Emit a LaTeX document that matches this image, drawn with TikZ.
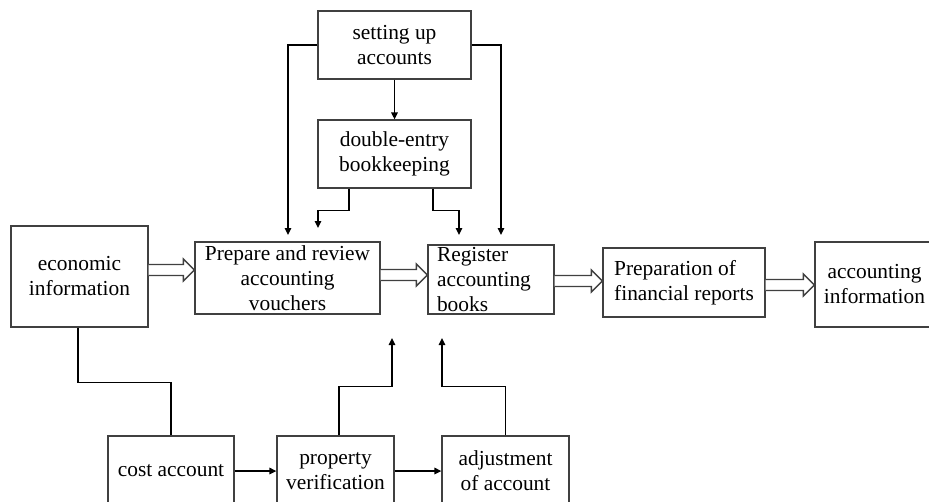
\documentclass[tikz,border=0pt]{standalone}
\usepackage{fontspec}
\setmainfont{Liberation Serif}
\usetikzlibrary{arrows.meta,calc}
\begin{document}
\begin{tikzpicture}[x=1pt,y=-1pt,
  box/.style={draw=black!75, line width=1.3pt, rectangle, inner sep=0pt,
    align=center, font=\fontsize{21.4}{25}\selectfont, text=black},
  link/.style={draw=black, line width=1.4pt, -{Triangle[length=7pt,width=6.5pt]}},
  plain/.style={draw=black, line width=1.4pt},
  hollow/.style={draw=black!75, line width=1.3pt, fill=white,
    to path={let \p1=(\tikztostart), \p2=(\tikztotarget) in
      (\x1,\y1+5.5pt) -- (\x2-11pt,\y1+5.5pt) -- (\x2-11pt,\y1+11pt) -- (\x2,\y1)
      -- (\x2-11pt,\y1-11pt) -- (\x2-11pt,\y1-5.5pt) -- (\x1,\y1-5.5pt)}}]

\useasboundingbox (0,0) rectangle (929,501);
\clip (0,0) rectangle (929,501);

% boxes
\node[box, minimum width=137pt, minimum height=101pt] (econ) at (79.5,276.5) {economic\\information};
\node[box, minimum width=185pt, minimum height=72pt] (prep) at (287.5,278) {Prepare and review\\accounting\\vouchers};
\node[box, minimum width=126pt, minimum height=69pt, text width=108pt, align=left] (reg) at (491,279.5) {Register\\accounting\\books};
\node[box, minimum width=162pt, minimum height=69pt, align=left] (prepfin) at (684,282.5) {Preparation of\\financial reports};
\node[box, minimum width=119pt, minimum height=85pt] (acct) at (874.5,284.5) {accounting\\information};
\node[box, minimum width=153pt, minimum height=68pt] (setup) at (394.5,45) {setting up\\accounts};
\node[box, minimum width=153pt, minimum height=68pt] (dbl) at (394.5,154) {double-entry\\bookkeeping};
\node[box, minimum width=126pt, minimum height=70pt] (cost) at (171,471) {cost account};
\node[box, minimum width=117pt, minimum height=70pt] (prop) at (335.5,471) {property\\verification};
\node[box, minimum width=127pt, minimum height=70pt] (adj) at (505.5,471) {adjustment\\of account};

% free ends of the feeding arrows
\coordinate (tipA) at (288,235);
\coordinate (tipB) at (501,235);
\coordinate (tipC) at (318,228);
\coordinate (tipD) at (459,235);
\coordinate (pin1) at (392,338);
\coordinate (pin2) at (442,338);

% heights of the main flow arrows
\coordinate (h1) at (0,270);
\coordinate (h2) at (0,275);
\coordinate (h3) at (0,281);
\coordinate (h4) at (0,285);

% main flow
\draw[hollow] (econ.east |- h1) to (prep.west |- h1);
\draw[hollow] (prep.east |- h2) to (reg.west |- h2);
\draw[hollow] (reg.east |- h3) to (prepfin.west |- h3);
\draw[hollow] (prepfin.east |- h4) to (acct.west |- h4);

% upper connectors
\draw[link] (setup.west) -| (tipA);
\draw[link] (setup.east) -| (tipB);
\draw[link] (setup.south) -- (dbl.north);
\draw[link] ([xshift=-45.5pt]dbl.south) -- ++(0,22) -| (tipC);
\draw[link] ([xshift=38.5pt]dbl.south) -- ++(0,22) -| (tipD);

% lower connectors
\draw[plain] ([xshift=-1.5pt]econ.south) -- ++(0,55) -| (cost.north);
\draw[link] (cost.east) -- (prop.west);
\draw[link] (prop.east) -- (adj.west);
\draw[link] ([xshift=3.5pt]prop.north) -- ++(0,-49) -| (pin1);
\draw[link] (adj.north) -- ++(0,-49) -| (pin2);
\end{tikzpicture}
\end{document}
